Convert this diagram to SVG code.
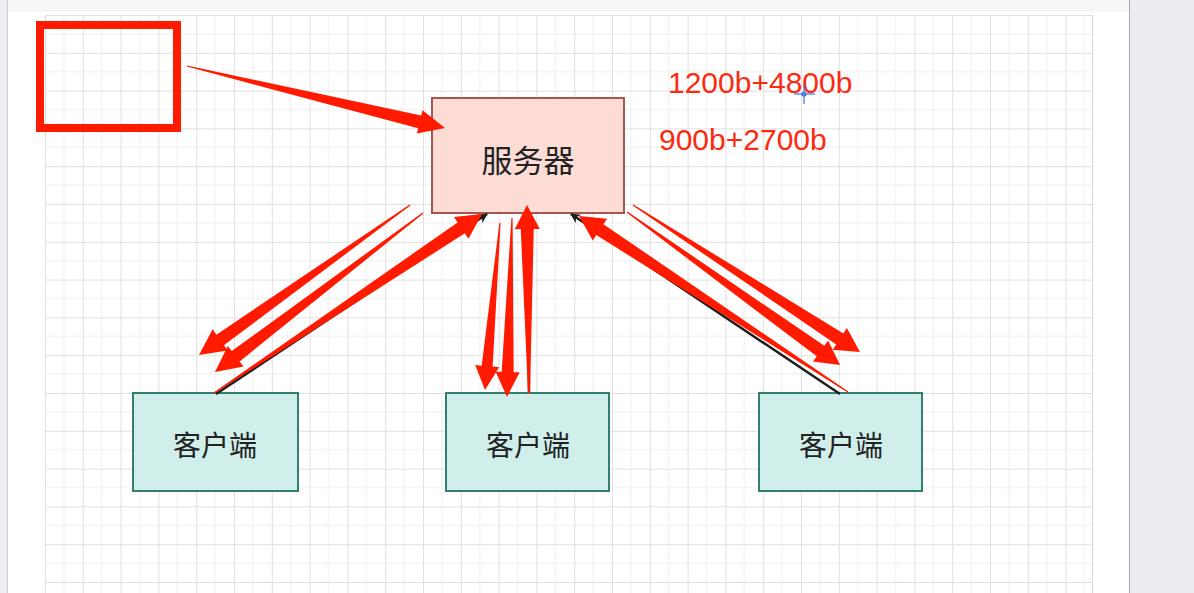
<svg xmlns="http://www.w3.org/2000/svg" width="1194" height="593" viewBox="0 0 1194 593">
  <defs>
    <pattern id="grid" patternUnits="userSpaceOnUse" x="45" y="15" width="37.8" height="37.8">
      <path d="M18.9 0V37.8M0 18.9H37.8" stroke="#eeeeee" stroke-width="1" fill="none"/>
      <path d="M0.5 0V37.8M0 0.5H37.8" stroke="#e0e0e0" stroke-width="1" fill="none"/>
    </pattern>
    <marker id="blackHead" viewBox="0 0 10 10" refX="9" refY="5" markerWidth="4" markerHeight="4" orient="auto" markerUnits="strokeWidth">
      <path d="M0 0L10 5L0 10L3 5Z" fill="#1e1e1e"/>
    </marker>
  </defs>
  <style>
    .node-server { fill: #fddcd6; stroke: #a3574f; stroke-width: 2; }
    .node-client { fill: #d0eeea; stroke: #327f72; stroke-width: 2; }
    .label { font-family: "Noto Sans CJK SC", "Noto Sans", sans-serif; fill: #222; text-anchor: middle; dominant-baseline: central; }
    .link { stroke: #1e1e1e; stroke-width: 2.5; fill: none; marker-end: url(#blackHead); }
    .flow { fill: #ff1a00; }
    .note { font-family: "Liberation Sans", Arial, sans-serif; font-size: 30px; fill: #fb2a10; }
  </style>

  <!-- window chrome -->
  <rect x="0" y="0" width="1194" height="593" fill="#ffffff"/>
  <rect x="0" y="0" width="1194" height="12" fill="#f6f6f6"/>
  <rect x="0" y="0" width="7" height="593" fill="#eceef2"/>
  <line x1="7.5" y1="0" x2="7.5" y2="593" stroke="#c9cacd"/>
  <rect x="1129" y="0" width="65" height="593" fill="#ebecf0"/>
  <line x1="1129.5" y1="0" x2="1129.5" y2="593" stroke="#a9aaad"/>

  <!-- canvas grid -->
  <rect x="45" y="15" width="1048" height="578" fill="url(#grid)"/>
  <line x1="1092.5" y1="15" x2="1092.5" y2="593" stroke="#dadada"/>

  <!-- highlight frame -->
  <rect x="40" y="25" width="137" height="103" fill="none" stroke="#ff1a00" stroke-width="8"/>

  <!-- notes -->
  <text class="note" x="668" y="93">1200b+4800b</text>
  <text class="note" x="659" y="150">900b+2700b</text>

  <!-- pointer -->
  <g stroke="#3b6fd6" stroke-width="1.2" fill="none">
    <line x1="794" y1="94" x2="815" y2="94"/>
    <line x1="804" y1="85" x2="804" y2="104"/>
    <circle cx="804" cy="94" r="2"/>
  </g>

  <!-- nodes -->
  <g id="server">
    <rect class="node-server" x="432" y="98" width="192" height="115"/>
    <text class="label" x="528" y="158" font-size="31">服务器</text>
  </g>
  <g id="client-1">
    <rect class="node-client" x="133" y="393" width="165" height="98"/>
    <text class="label" x="215" y="444" font-size="28">客户端</text>
  </g>
  <g id="client-2">
    <rect class="node-client" x="446" y="393" width="163" height="98"/>
    <text class="label" x="528" y="444" font-size="28">客户端</text>
  </g>
  <g id="client-3">
    <rect class="node-client" x="759" y="393" width="163" height="98"/>
    <text class="label" x="841" y="444" font-size="28">客户端</text>
  </g>

  <!-- connectors -->
  <g id="connectors">
    <line class="link" x1="216" y1="394" x2="487" y2="214"/>
    <line class="link" x1="529" y1="393" x2="528" y2="214"/>
    <line class="link" x1="840" y1="394" x2="571" y2="214"/>

    <!-- frame to server -->
    <polygon class="flow" transform="translate(187,66) rotate(13.51)" points="0,-0.6 239.3,-6.5 239.3,-12 265.3,0 239.3,12 239.3,6.5 0,0.6"/>
    <!-- server to client 1 -->
    <polygon class="flow" transform="translate(410,205) rotate(144.59)" points="0,-0.6 232.9,-6.5 232.9,-13 258.9,0 232.9,13 232.9,6.5 0,0.6"/>
    <polygon class="flow" transform="translate(423,213) rotate(142.60)" points="0,-0.6 235.8,-6.5 235.8,-13 261.8,0 235.8,13 235.8,6.5 0,0.6"/>
    <!-- client 1 to server -->
    <polygon class="flow" transform="translate(214,393) rotate(-33.74)" points="0,-0.6 297.3,-6.5 297.3,-13 322.3,0 297.3,13 297.3,6.5 0,0.6"/>
    <!-- server to client 2 -->
    <polygon class="flow" transform="translate(500,223) rotate(95.13)" points="0,-0.6 143.7,-5.5 143.7,-12 167.7,0 143.7,12 143.7,5.5 0,0.6"/>
    <polygon class="flow" transform="translate(512,218) rotate(91.60)" points="0,-0.6 154.1,-6 154.1,-12 179.1,0 154.1,12 154.1,6 0,0.6"/>
    <!-- client 2 to server -->
    <polygon class="flow" transform="translate(529,393) rotate(-90.61)" points="0,-1 164,-6.5 164,-12.5 188,0 164,12.5 164,6.5 0,1"/>
    <!-- server to client 3 -->
    <polygon class="flow" transform="translate(633,205) rotate(32.93)" points="0,-0.6 246.4,-6.5 246.4,-13 270.4,0 246.4,13 246.4,6.5 0,0.6"/>
    <polygon class="flow" transform="translate(627,212) rotate(35.69)" points="0,-0.6 238.3,-6.5 238.3,-13 262.3,0 238.3,13 238.3,6.5 0,0.6"/>
    <!-- client 3 to server -->
    <polygon class="flow" transform="translate(848,392) rotate(-146.80)" points="0,-0.6 296.5,-6.5 296.5,-13 321.5,0 296.5,13 296.5,6.5 0,0.6"/>
  </g>
</svg>
